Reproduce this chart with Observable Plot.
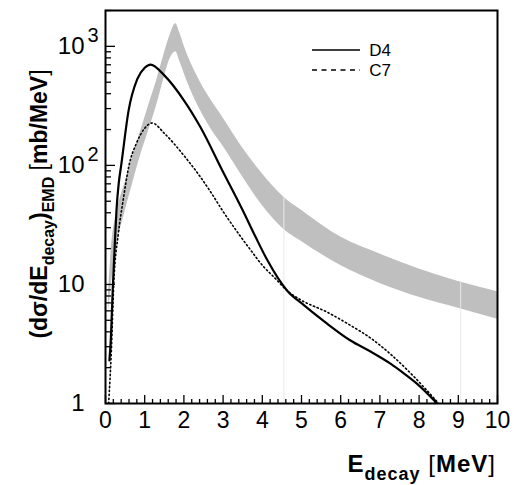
<!DOCTYPE html>
<html><head><meta charset="utf-8">
<script src="https://cdn.jsdelivr.net/npm/d3@7"></script>
<script src="https://cdn.jsdelivr.net/npm/@observablehq/plot@0.6"></script>
<style>body{margin:0;background:#fff}</style>
</head><body><div id="chart"></div>
<script>
// Gray band (lower / upper bounds)
const bandX    = [0.08, 0.15, 0.30, 0.50, 0.70, 0.90, 1.10, 1.30, 1.50, 1.65, 1.79, 1.90, 2.00, 2.20, 2.42, 2.70, 3.00, 3.50, 4.00, 4.55, 5.00, 6.00, 7.00, 8.00, 9.00, 10.0];
const bandLow  = [6, 10, 22, 41, 72, 123, 195, 315, 550, 790, 900, 740, 600, 410, 290, 200, 145, 80, 46, 29, 23, 14.4, 10.2, 7.8, 6.3, 5.1];
const bandHigh = [9, 20, 42, 72, 121, 195, 318, 510, 870, 1250, 1550, 1280, 1020, 700, 500, 350, 250, 140, 85, 54, 42, 25, 18, 13.5, 10.6, 8.7];
// D4 (solid)
const d4X = [0.10, 0.13, 0.19, 0.23, 0.28, 0.34, 0.40, 0.59, 0.81, 1.00, 1.15, 1.50, 2.00, 2.42, 3.00, 3.50, 3.83, 4.12, 4.63, 5.06, 5.66, 6.25, 6.76, 7.27, 7.61, 7.95, 8.46];
const d4Y = [2.3, 3.2, 10, 19.4, 42, 72, 100, 290, 530, 660, 702, 570, 352, 210, 88, 42, 25, 16.2, 8.9, 6.7, 4.67, 3.38, 2.73, 2.16, 1.79, 1.46, 1.0];
// C7 (dotted)
const c7X = [0.08, 0.15, 0.21, 0.33, 0.45, 0.60, 0.78, 1.00, 1.19, 1.50, 2.00, 2.42, 2.68, 3.00, 3.40, 3.70, 4.00, 4.30, 4.63, 4.97, 5.66, 6.25, 6.76, 7.27, 7.78, 8.50];
const c7Y = [1.0, 2.8, 10, 27, 51, 100, 151, 205, 227, 186, 121, 80, 60, 41, 26.5, 19.5, 14.5, 11.5, 8.9, 7.45, 5.84, 4.53, 3.55, 2.6, 1.8, 1.0];
// faint seams in the band
const seamX = [4.55, 9.06];
const seamTop = [54, 10.6];
// ticks
const xMajor = [0,1,2,3,4,5,6,7,8,9,10];
const xMinor = [0.2,0.4,0.6,0.8,1.2,1.4,1.6,1.8,2.2,2.4,2.6,2.8,3.2,3.4,3.6,3.8,4.2,4.4,4.6,4.8,5.2,5.4,5.6,5.8,6.2,6.4,6.6,6.8,7.2,7.4,7.6,7.8,8.2,8.4,8.6,8.8,9.2,9.4,9.6,9.8];
const yMajor = [1, 10, 100, 1000];
const yMinor = [2,3,4,5,6,7,8,9,20,30,40,50,60,70,80,90,200,300,400,500,600,700,800,900,2000];
const yTickBase = ["1", "10", "10", "10"];
const yTickExp  = ["", "", "2", "3"];
const legendNames = ["D4", "C7"];

const band = bandX.map((x, i) => ({x, lo: bandLow[i], hi: bandHigh[i]}));
const d4 = d4X.map((x, i) => ({x, y: d4Y[i]}));
const c7 = c7X.map((x, i) => ({x, y: c7Y[i]}));
const seams = seamX.map((x, i) => ({x, top: seamTop[i]}));
const yLabels = yMajor.map((v, i) => ({v, base: yTickBase[i], exp: yTickExp[i]}));

const FONT = "'Liberation Sans', Arial, Helvetica, sans-serif";

const plot = Plot.plot({
  width: 514, height: 485,
  marginLeft: 105, marginRight: 17, marginTop: 10, marginBottom: 82,
  style: {fontFamily: FONT, background: "white", color: "black", overflow: "visible"},
  x: {domain: [0, 10]},
  y: {type: "log", domain: [1, 2000]},
  marks: [
    Plot.areaY(band, {x: "x", y1: "lo", y2: "hi", fill: "#bfbfbf", curve: "monotone-x"}),
    Plot.ruleX(seams, {x: "x", y1: 1, y2: "top", stroke: "#e9e9e9", strokeWidth: 1}),
    Plot.line(c7, {x: "x", y: "y", stroke: "black", strokeWidth: 1.6, strokeDasharray: "1.3,2.7", curve: "monotone-x", clip: true}),
    Plot.line(d4, {x: "x", y: "y", stroke: "black", strokeWidth: 2.2, curve: "monotone-x", clip: true}),
    Plot.axisX(xMinor, {anchor: "bottom", tickSize: -4, tickFormat: () => "", strokeWidth: 1.3, label: null}),
    Plot.axisX(xMajor, {anchor: "bottom", tickSize: -8, tickFormat: () => "", strokeWidth: 1.3, label: null}),
    Plot.axisY(yMinor, {anchor: "left", tickSize: -6, tickFormat: () => "", strokeWidth: 1.3, label: null}),
    Plot.axisY(yMajor, {anchor: "left", tickSize: -10, tickFormat: () => "", strokeWidth: 1.3, label: null}),
    Plot.text(xMajor, {x: d => d, text: d => String(d), frameAnchor: "bottom", dy: 24, fontSize: 23}),
    Plot.text(yLabels, {y: "v", text: "base", frameAnchor: "left", dx: -21, textAnchor: "end", fontSize: 24}),
    Plot.text(yLabels, {y: "v", text: "exp", frameAnchor: "left", dx: -18, dy: -11, textAnchor: "start", fontSize: 20}),
    Plot.frame({stroke: "black", strokeWidth: 2})
  ]
});
document.getElementById("chart").appendChild(plot);

const svg = d3.select(plot);
// y-axis title
const yt = svg.append("text")
  .attr("transform", "translate(47,204) rotate(-90)")
  .attr("text-anchor", "middle")
  .attr("font-family", FONT).attr("font-size", 23).attr("font-weight", "bold").attr("fill", "black");
yt.append("tspan").text("(dσ/dE");
yt.append("tspan").attr("font-size", 16).attr("dy", 7).text("decay");
yt.append("tspan").attr("dy", -7).text(")");
yt.append("tspan").attr("font-size", 16).attr("dy", 7).text("EMD");
yt.append("tspan").attr("dy", -7).attr("font-weight", "normal").text(" [");
yt.append("tspan").text("mb/MeV");
yt.append("tspan").attr("font-weight", "normal").text("]");

// x-axis title
const xt = svg.append("text")
  .attr("x", 496).attr("y", 472)
  .attr("text-anchor", "end")
  .attr("letter-spacing", 1)
  .attr("font-family", FONT).attr("font-size", 24).attr("font-weight", "bold").attr("fill", "black");
xt.append("tspan").text("E");
xt.append("tspan").attr("font-size", 18).attr("dy", 8).text("decay");
xt.append("tspan").attr("dy", -8).attr("font-weight", "normal").text(" [");
xt.append("tspan").text("MeV");
xt.append("tspan").attr("font-weight", "normal").text("]");

// legend
const lg = svg.append("g").attr("font-family", FONT).attr("font-size", 17);
lg.append("line").attr("x1", 312).attr("x2", 360).attr("y1", 50).attr("y2", 50).attr("stroke", "black").attr("stroke-width", 1.5);
lg.append("line").attr("x1", 312).attr("x2", 360).attr("y1", 70).attr("y2", 70).attr("stroke", "black").attr("stroke-width", 1.3).attr("stroke-dasharray", "5,4.5");
lg.append("text").attr("x", 380).attr("y", 56).text(legendNames[0]);
lg.append("text").attr("x", 380).attr("y", 76).text(legendNames[1]);
</script>
</body></html>
